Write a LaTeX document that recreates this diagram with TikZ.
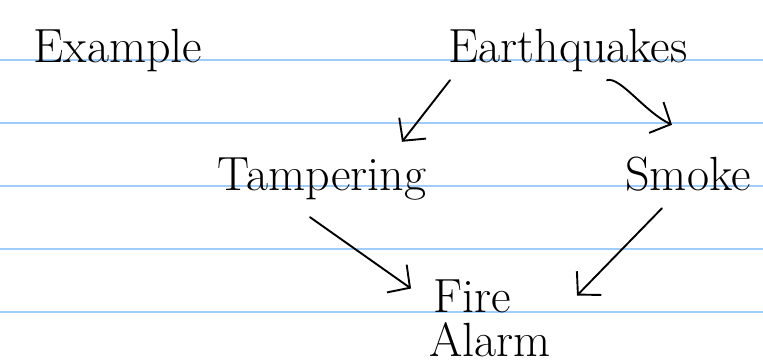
\documentclass[tikz,border=0pt]{standalone}
\usepackage{fontspec}
\usetikzlibrary{arrows.meta,calc}
\pgfdeclarelayer{background}
\pgfdeclarelayer{main}
\pgfsetlayers{background,main}
\definecolor{ruleblue}{RGB}{160,204,248}

\tikzset{
  word/.style={font=\fontsize{48}{52}\selectfont, inner sep=0pt, text height=32pt, text depth=9pt, anchor=base},
  pen/.style={line width=1.9pt, line cap=round, line join=round, -{Straight Barb[length=16pt,width=34pt]}}
}

\begin{document}
\begin{tikzpicture}[x=1pt,y=-1pt]
\useasboundingbox (0,0) rectangle (763,364);

\begin{pgfonlayer}{background}
\draw [line width=1.5pt, draw=ruleblue] (0,60) -- (763,60);
\draw [line width=1.5pt, draw=ruleblue] (0,123) -- (763,123);
\draw [line width=1.5pt, draw=ruleblue] (0,186) -- (763,186);
\draw [line width=1.5pt, draw=ruleblue] (0,249) -- (763,249);
\draw [line width=1.5pt, draw=ruleblue] (0,312) -- (763,312);
\end{pgfonlayer}

\node [word] (example) at (118,62) {Example};
\node [word] (quake) at (568,62) {Earthquakes};
\node [word] (tamper) at (322,190) {Tampering};
\node [word] (smoke) at (688,190) {Smoke};
\node [word] (fire) at (472,312) {Fire};
\node [word, text depth=0pt] (alarm) at (490,356) {Alarm};

% causes
\draw [pen] ($(quake.south)+(-118,9)$) -- ($(tamper.north)+(80,-16)$);
\draw [pen] ($(quake.south)+(39,9)$) .. controls ($(quake.south)+(52,5)$) and ($(quake.south)+(77,41)$) .. ($(smoke.north)+(-16,-33)$);
\draw [pen] ($(tamper.south)+(-12,18)$) -- ($(fire.center)+(-61,-12)$);
\draw [pen] ($(smoke.south)+(-26,9)$) -- ($(fire.center)+(105,-5)$);

\end{tikzpicture}
\end{document}
